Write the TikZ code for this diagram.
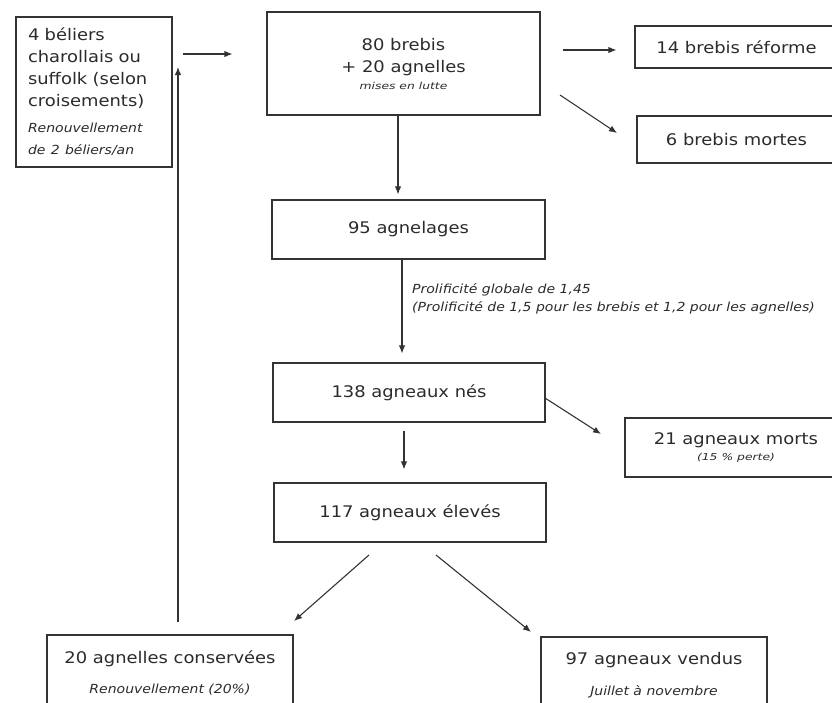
\documentclass[tikz,border=0pt]{standalone}
\usepackage{fontspec}
\setmainfont{DejaVu Sans}[FakeStretch=1.12]
\newfontfamily\notefont{DejaVu Sans}[FakeStretch=1.3]
\usetikzlibrary{arrows.meta,calc}
\definecolor{ink}{HTML}{2B2B2B}
\definecolor{edge}{HTML}{333333}
\begin{document}
\begin{tikzpicture}[x=1pt,y=-1pt,
  box/.style={draw=edge, line width=1.2pt, inner sep=0pt, align=center,
    text=ink, font=\fontsize{16}{22}\selectfont},
  arr/.style={draw=edge, line width=1.1pt, -{Latex[length=8pt,width=6.5pt]}},
  lbl/.style={font=\fontsize{12.5}{18}\selectfont\itshape, text=ink, inner sep=0pt}]

\begin{scope}
\clip (0,0) rectangle (832,702);

% flock and rams
\node[box, minimum width=156, minimum height=150, text width=132, align=left]
  (bel) at (94,92)
  {4 béliers\\charollais ou\\suffolk (selon\\croisements)\\[7pt]
   {\fontsize{12.5}{19}\selectfont\itshape Renouvellement\\de 2 béliers/an}};
\node[box, minimum width=273, minimum height=103] (brebis) at (403.5,63.5)
  {80 brebis\\+ 20 agnelles\\[-5pt]{\notefont\fontsize{9.5}{12}\selectfont\itshape mises en lutte}};
\node[box, minimum width=203, minimum height=42] (ref) at (736.5,47) {14 brebis réforme};
\node[box, minimum width=199, minimum height=47] (mb) at (736.5,139.5) {6 brebis mortes};

% lambing chain
\node[box, minimum width=273, minimum height=59] (agn) at (408.5,229.5) {95 agnelages};
\node[lbl, anchor=west, align=left] (prol) at (412,299)
  {Prolificité globale de 1,45\\(Prolificité de 1,5 pour les brebis et 1,2 pour les agnelles)};
\node[box, minimum width=272, minimum height=59] (nes) at (409,392.5) {138 agneaux nés};
\node[box, minimum width=222, minimum height=59] (ma) at (736,447.5)
  {21 agneaux morts\\[-6pt]{\notefont\fontsize{9.5}{12}\selectfont\itshape (15 \% perte)}};
\node[box, minimum width=272, minimum height=59] (elev) at (410,512.5) {117 agneaux élevés};

% outlets
\node[box, minimum width=246, minimum height=75] (cons) at (170,672.5)
  {20 agnelles conservées\\[8pt]{\fontsize{12.5}{16}\selectfont\itshape Renouvellement (20\%)}};
\node[box, minimum width=226, minimum height=77] (vend) at (654,675.5)
  {97 agneaux vendus\\[9pt]{\fontsize{12.5}{16}\selectfont\itshape Juillet à novembre}};

% free ends of the slanted connectors
\coordinate (s1) at (560,95);   \coordinate (e1) at (617,133);
\coordinate (s2) at (545,398);  \coordinate (e2) at (601,434);
\coordinate (s3) at (369,555);  \coordinate (e3) at (294,621);
\coordinate (s4) at (436,555);  \coordinate (e4) at (531,632);
\coordinate (top) at (178,67);

% connectors
\draw[arr, shorten <=10pt, shorten >=34pt] (bel.east |- 0,54) -- (brebis.west |- 0,54);
\draw[arr, shorten <=22pt, shorten >=18pt] (brebis.east |- 0,50) -- (ref.west |- 0,50);
\draw[arr] (s1) -- (e1);
\draw[arr, shorten >=5pt] (brebis.south -| 398,0) -- (agn.north -| 398,0);
\draw[arr, shorten >=9pt] (agn.south -| 402,0) -- (nes.north -| 402,0);
\draw[arr] (s2) -- (e2);
\draw[arr, shorten <=8pt, shorten >=13pt] (nes.south -| 404,0) -- (elev.north -| 404,0);
\draw[arr] (s3) -- (e3);
\draw[arr] (s4) -- (e4);
\draw[arr, shorten <=12pt] (cons.north -| top) -- (top);
\end{scope}

\pgfresetboundingbox
\useasboundingbox (0,0) rectangle (832,702);
\end{tikzpicture}
\end{document}
